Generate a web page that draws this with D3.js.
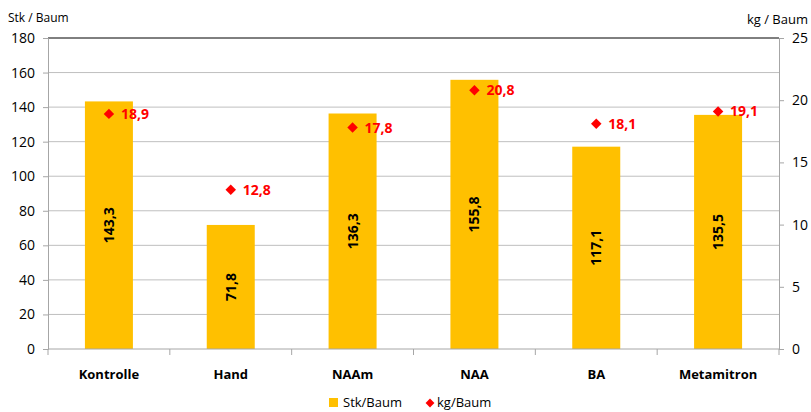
<!DOCTYPE html>
<html>
<head>
<meta charset="utf-8">
<script src="https://cdn.jsdelivr.net/npm/d3@7"></script>
<style>
  body { margin: 0; background: #fff; }
  text { font-family: "Open Sans", "Noto Sans", sans-serif; }
</style>
</head>
<body>
<svg id="chart" width="811" height="412"></svg>
<script>
const categories = ["Kontrolle", "Hand", "NAAm", "NAA", "BA", "Metamitron"];
const stkBaum = [143.3, 71.8, 136.3, 155.8, 117.1, 135.5];
const kgBaum = [18.9, 12.8, 17.8, 20.8, 18.1, 19.1];
const leftTicks = [0, 20, 40, 60, 80, 100, 120, 140, 160, 180];
const rightTicks = [0, 5, 10, 15, 20, 25];

const fmt = v => v.toFixed(1).replace(".", ",");

const svg = d3.select("#chart");
const margin = { left: 48, right: 32, top: 38, bottom: 63 };
const width = 811 - margin.left - margin.right;
const height = 412 - margin.top - margin.bottom;

const g = svg.append("g")
  .attr("transform", "translate(" + margin.left + "," + margin.top + ")");

const x = d3.scaleBand().domain(categories).range([0, width]).paddingInner(0).paddingOuter(0);
const y = d3.scaleLinear().domain([0, 180]).range([height, 0]);
const y2 = d3.scaleLinear().domain([0, 25]).range([height, 0]);

// gridlines
g.selectAll(".grid")
  .data(leftTicks.filter(d => d > 0))
  .enter().append("line")
  .attr("x1", 0).attr("x2", width)
  .attr("y1", d => y(d)).attr("y2", d => y(d))
  .attr("stroke", d => d === 180 ? "#000" : "#bfbfbf")
  .attr("stroke-width", 1);

// left axis
const yAxis = g.append("g")
  .call(d3.axisLeft(y).tickValues(leftTicks).tickSize(5).tickPadding(8));
yAxis.select(".domain").attr("stroke", "#a6a6a6");
yAxis.selectAll(".tick line").attr("stroke", "#a6a6a6");
yAxis.selectAll("text").style("font-size", "14px").attr("fill", "#000");

// right axis
const yAxis2 = g.append("g")
  .attr("transform", "translate(" + width + ",0)")
  .call(d3.axisRight(y2).tickValues(rightTicks).tickSize(5).tickPadding(8));
yAxis2.select(".domain").attr("stroke", "#a6a6a6");
yAxis2.selectAll(".tick line").attr("stroke", "#a6a6a6");
yAxis2.selectAll("text").style("font-size", "14px").attr("fill", "#000");

// bars
const barW = 48;
g.selectAll(".bar")
  .data(stkBaum)
  .enter().append("rect")
  .attr("x", (d, i) => x(categories[i]) + x.bandwidth() / 2 - barW / 2)
  .attr("width", barW)
  .attr("y", d => y(d))
  .attr("height", d => height - y(d))
  .attr("fill", "#ffc000");

// bottom axis
g.append("line")
  .attr("x1", 0).attr("x2", width)
  .attr("y1", height).attr("y2", height)
  .attr("stroke", "#a6a6a6");
g.selectAll(".xtick")
  .data(d3.range(categories.length + 1))
  .enter().append("line")
  .attr("x1", i => i * x.bandwidth()).attr("x2", i => i * x.bandwidth())
  .attr("y1", height).attr("y2", height + 6)
  .attr("stroke", "#a6a6a6");
g.selectAll(".xlabel")
  .data(categories)
  .enter().append("text")
  .attr("x", d => x(d) + x.bandwidth() / 2)
  .attr("y", height + 30)
  .attr("text-anchor", "middle")
  .style("font-size", "13px")
  .style("font-weight", "bold")
  .text(d => d);

// bar value labels
g.selectAll(".barlabel")
  .data(stkBaum)
  .enter().append("text")
  .attr("transform", (d, i) => {
    const cx = x(categories[i]) + x.bandwidth() / 2;
    const cy = (y(d) + height) / 2;
    return "translate(" + (cx + 5) + "," + cy + ") rotate(-90)";
  })
  .attr("text-anchor", "middle")
  .style("font-size", "14px")
  .style("font-weight", "bold")
  .text(d => fmt(d));

// diamonds
const diamond = d3.symbol().type(d3.symbolDiamond2).size(70);
g.selectAll(".pt")
  .data(kgBaum)
  .enter().append("path")
  .attr("d", diamond)
  .attr("transform", (d, i) => "translate(" + (x(categories[i]) + x.bandwidth() / 2) + "," + y2(d) + ")")
  .attr("fill", "#ff0000");
g.selectAll(".ptlabel")
  .data(kgBaum)
  .enter().append("text")
  .attr("x", (d, i) => x(categories[i]) + x.bandwidth() / 2 + 12)
  .attr("y", d => y2(d) + 5)
  .attr("fill", "#ff0000")
  .style("font-size", "14px")
  .style("font-weight", "bold")
  .text(d => fmt(d));

// axis titles
svg.append("text").attr("x", 8).attr("y", 22)
  .style("font-size", "12px").text("Stk / Baum");
svg.append("text").attr("x", 808).attr("y", 24).attr("text-anchor", "end")
  .style("font-size", "13px").text("kg / Baum");

// legend
const leg = svg.append("g").attr("transform", "translate(329,403)");
leg.append("rect").attr("x", 0).attr("y", -5).attr("width", 9).attr("height", 9).attr("fill", "#ffc000");
leg.append("text").attr("x", 14).attr("y", 4).style("font-size", "13px").text("Stk/Baum");
leg.append("path").attr("d", d3.symbol().type(d3.symbolDiamond2).size(50))
  .attr("transform", "translate(101,0)").attr("fill", "#ff0000");
leg.append("text").attr("x", 108).attr("y", 4).style("font-size", "13px").text("kg/Baum");
</script>
</body>
</html>
